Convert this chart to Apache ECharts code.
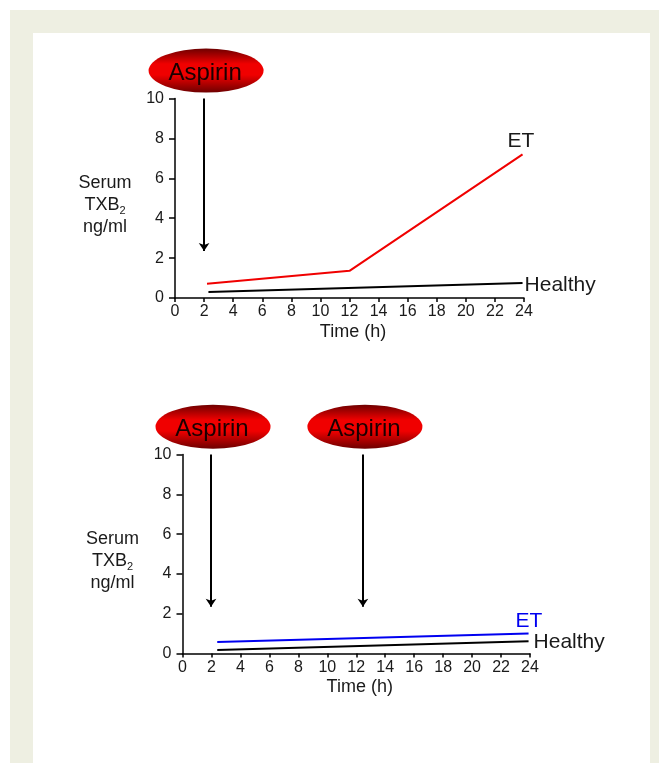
<!DOCTYPE html>
<html>
<head>
<meta charset="utf-8" />
<title>Serum TXB2</title>
<script src="https://cdn.jsdelivr.net/npm/echarts@6/dist/echarts.min.js"></script>
<style>
  html, body { margin: 0; padding: 0; background: #fff; overflow: hidden; }
  #frame { position: absolute; left: 10px; top: 10px; width: 649px; height: 753px; background: #eeefe2; }
  #paper { position: absolute; left: 33px; top: 33px; width: 617px; height: 730px; background: #fff; }
  #main { position: absolute; left: 0; top: 0; width: 667px; height: 763px; }
</style>
</head>
<body>
<div id="frame"></div>
<div id="paper"></div>
<div id="main"></div>
<script>
  // [hours, TXB2 ng/ml]
  var etTop = [[2.2, 0.72], [12, 1.36], [23.9, 7.2]];
  var healthyTop = [[2.3, 0.3], [23.9, 0.75]];
  var etBottom = [[2.4, 0.58], [23.9, 1.0]];
  var healthyBottom = [[2.4, 0.18], [23.9, 0.62]];

  // aspirin doses: hour of the arrow, and where the arrow stops
  var dosesTop = [2.0];
  var dosesBottom = [1.97, 12.46];
  var arrowEnd = 2.35;
  var pillHeight = 11.4; // pill sits above the axis top

  var font = '"Liberation Sans", Arial, sans-serif';

  function axisPair(i) {
    return {
      x: {
        type: 'value', gridIndex: i, min: 0, max: 24, interval: 2,
        splitLine: { show: false },
        axisLine: { onZero: false, lineStyle: { color: '#000', width: 1.5 } },
        axisTick: { length: 4, lineStyle: { color: '#000', width: 1.5 } },
        axisLabel: { color: '#1a1a1a', fontFamily: font, fontSize: 16, margin: 6, showMinLabel: true, showMaxLabel: true },
        name: 'Time (h)', nameLocation: 'middle', nameGap: 25,
        nameTextStyle: { color: '#1a1a1a', fontFamily: font, fontSize: 18, padding: [0, 0, 0, 7] }
      },
      y: {
        type: 'value', gridIndex: i, min: 0, max: 10, interval: 2,
        splitLine: { show: false },
        axisLine: { show: true, lineStyle: { color: '#000', width: 1.5 } },
        axisTick: { show: true, length: 6, lineStyle: { color: '#000', width: 1.5 } },
        axisLabel: { color: '#1a1a1a', fontFamily: font, fontSize: 16, margin: 11 },
        name: 'Serum\nTXB{sub|2}\nng/ml', nameLocation: 'middle', nameRotate: 0, nameGap: 70,
        nameTextStyle: {
          color: '#1a1a1a', fontFamily: font, fontSize: 18, lineHeight: 22, align: 'center', padding: [14, 0, 0, 0],
          rich: { sub: { fontFamily: font, fontSize: 11, color: '#1a1a1a', verticalAlign: 'bottom', padding: [7, 0, 0, 0] } }
        }
      }
    };
  }

  function curve(name, i, data, color, off) {
    return {
      name: name, type: 'line', xAxisIndex: i, yAxisIndex: i, data: data,
      showSymbol: false, symbol: 'none', clip: false, silent: true,
      lineStyle: { color: color, width: 2 },
      endLabel: {
        show: true, formatter: name, color: off.color || '#1a1a1a',
        fontFamily: font, fontSize: off.size, offset: off.offset, distance: 0
      }
    };
  }

  function pills(i, doses) {
    return {
      type: 'scatter', xAxisIndex: i, yAxisIndex: i, clip: false, silent: true, z: 5,
      data: doses.map(function (d) { return [d, pillHeight]; }),
      symbol: 'circle', symbolSize: [115, 44], symbolOffset: [2, 0],
      itemStyle: {
        opacity: 1,
        color: {
          type: 'linear', x: 0, y: 0, x2: 0, y2: 1,
          colorStops: [
            { offset: 0, color: '#6e0000' },
            { offset: 0.35, color: '#f00000' },
            { offset: 0.6, color: '#f00000' },
            { offset: 1, color: '#6e0000' }
          ]
        }
      },
      label: { show: true, position: 'inside', offset: [-1, 3], formatter: 'Aspirin', color: '#1a0000', fontFamily: font, fontSize: 24 }
    };
  }

  function arrows(i, doses) {
    return {
      type: 'line', xAxisIndex: i, yAxisIndex: i, data: [], silent: true,
      markLine: {
        silent: true, animation: false, symbol: ['none', 'arrow'], symbolSize: 8,
        label: { show: false }, emphasis: { disabled: true },
        lineStyle: { color: '#000', width: 2, type: 'solid' },
        data: doses.map(function (d) { return [{ coord: [d, 10] }, { coord: [d, arrowEnd] }]; })
      }
    };
  }

  var a0 = axisPair(0), a1 = axisPair(1);
  var option = {
    animation: false,
    grid: [
      { left: 175, width: 349, top: 98.5, height: 199.5 },
      { left: 182.5, width: 347.5, top: 454.5, height: 199 }
    ],
    xAxis: [a0.x, a1.x],
    yAxis: [a0.y, a1.y],
    series: [
      curve('ET', 0, etTop, '#f00000', { size: 21, offset: [-15, -13] }),
      curve('Healthy', 0, healthyTop, '#000', { size: 21, offset: [2, 2] }),
      curve('ET', 1, etBottom, '#0000f0', { size: 21, color: '#0000f0', offset: [-13, -12] }),
      curve('Healthy', 1, healthyBottom, '#000', { size: 21, offset: [5, 1] }),
      arrows(0, dosesTop),
      arrows(1, dosesBottom),
      pills(0, dosesTop),
      pills(1, dosesBottom)
    ]
  };

  var myChart = echarts.init(document.getElementById('main'));
  myChart.setOption(option);
</script>
</body>
</html>
